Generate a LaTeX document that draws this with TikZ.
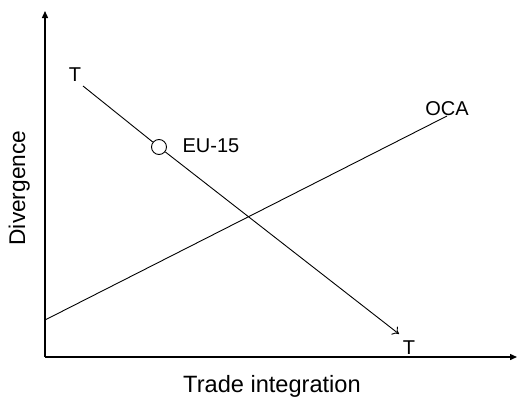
\documentclass[tikz,border=0pt]{standalone}
\usepackage{fontspec}
\setmainfont{Liberation Sans}
\usetikzlibrary{arrows.meta}
\begin{document}
\begin{tikzpicture}[x=1pt,y=-1pt,
  axis/.style={line width=1.4pt,-{Triangle[length=7pt,width=6pt]}},
  curve/.style={line width=0.9pt},
  lbl/.style={inner sep=0pt,anchor=base,font=\fontsize{20}{20}\selectfont},
  axlbl/.style={inner sep=0pt,anchor=base,font=\fontsize{23.6}{23.6}\selectfont}]
\useasboundingbox (0,0) rectangle (517,397);
\coordinate (O) at (45,357);
\coordinate (ytop) at (45,11);
\coordinate (xend) at (517,357);
\draw[axis] (O) -- (ytop);
\draw[axis] (O) -- (xend);
\coordinate (ocaA) at (45,320);
\coordinate (ocaB) at (447,116);
\draw[curve] (ocaA) -- (ocaB);
\coordinate (tA) at (83,86);
\coordinate (tB) at (399,334);
\node[circle,draw,line width=0.9pt,minimum size=15pt,inner sep=0pt,fill=white] (eu) at (159,147) {};
\draw[curve] (tA) -- (eu);
\draw[curve,-{To[length=6pt,width=10pt]}] (eu) -- (tB);
\node[lbl] (t1) at (75,81) {T};
\node[lbl] (t2) at (409,354) {T};
\node[lbl] (oca) at (447,115) {OCA};
\node[lbl] (eulbl) at (211,152.7) {EU-15};
\node[axlbl] (xl) at (272,392.7) {Trade integration};
\node[axlbl,rotate=90,font=\fontsize{22.7}{22.7}\selectfont] (yl) at (25,188) {Divergence};
\end{tikzpicture}
\end{document}
